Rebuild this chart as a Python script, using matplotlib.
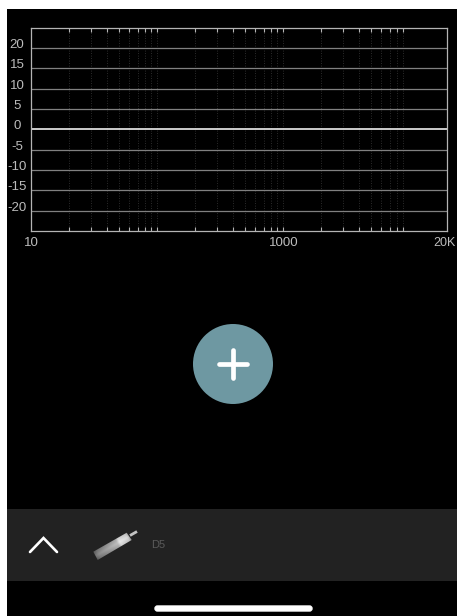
import numpy as np
import matplotlib
matplotlib.use("Agg")
import matplotlib.pyplot as plt
from matplotlib.patches import Rectangle, Circle, Polygon, FancyBboxPatch

W, H = 457, 616
db_levels = [20, 15, 10, 5, 0, -5, -10, -15, -20]
db_labels = ["20", "15", "10", "5", "0", "-5", "-10", "-15", "-20"]
freq_ticks = [20, 30, 40, 50, 60, 70, 80, 90, 100,
              200, 300, 400, 500, 600, 700, 800, 900, 1000,
              2000, 3000, 4000, 5000, 6000, 7000, 8000, 9000]
freq_labels = {10: "10", 1000: "1000", 20000: "20K"}
mic_name = "D5"

plt.rcParams["font.family"] = ["Liberation Sans", "DejaVu Sans"]
fig = plt.figure(figsize=(W / 100, H / 100), dpi=100, facecolor="white")

# Screen background and interface layer, in pixel coordinates
ui = fig.add_axes([0, 0, 1, 1], zorder=0)
ui.set_xlim(0, W)
ui.set_ylim(H, 0)
ui.axis("off")
ui.add_patch(Rectangle((7, 9), W - 7, H - 9, fc="black", ec="none"))
ui.add_patch(Rectangle((7, 509), W - 7, 72, fc="#222222", ec="none"))
ui.add_patch(Circle((233, 364), 40, fc="#6e98a2", ec="none"))
ui.plot([219, 247], [364, 364], color="white", lw=3.4, solid_capstyle="round")
ui.plot([233, 233], [350, 378], color="white", lw=3.4, solid_capstyle="round")
ui.plot([30, 43.5, 57], [552, 538, 552], color="white", lw=1.9,
        solid_capstyle="round", solid_joinstyle="miter")
ui.add_patch(FancyBboxPatch((155, 606), 157, 5, boxstyle="round,pad=0,rounding_size=2.5",
                            fc="white", ec="white", lw=1))

# Microphone icon
yy, xx = np.mgrid[525:565:160j, 90:140:200j]
ux, uy = np.array([33.5, -19.5]) / np.hypot(33.5, 19.5)
t = ((xx - 95.5) * ux + (yy - 556) * uy) / 39
s = np.abs((xx - 95.5) * -uy + (yy - 556) * ux) / 5
shade = np.interp(t, [0, 0.1, 0.65, 0.72, 0.95, 1], [0.45, 0.55, 0.75, 0.92, 0.85, 0.7]) - 0.12 * np.clip(s, 0, 1)
img = ui.imshow(shade, extent=(90, 140, 565, 525), cmap="gray", vmin=0, vmax=1,
                interpolation="bilinear", aspect="auto", zorder=2)
body = Polygon([(93.3, 551.7), (97.7, 560), (131.7, 540), (126.7, 532.7)],
               closed=True, transform=ui.transData, fc="none", ec="none")
ui.add_patch(body)
img.set_clip_path(body)
ui.set_xlim(0, W)
ui.set_ylim(H, 0)
ui.plot([130, 137], [535.5, 531.5], color="#c4c4c4", lw=2.0, solid_capstyle="butt", zorder=3)
ui.text(158, 545, mic_name, color="#5a5a5a", fontsize=8, ha="center", va="center")

# Response grid
ax = fig.add_axes([31 / W, 1 - 231 / H, 416 / W, 203.5 / H], zorder=1)
ax.patch.set_alpha(0)
ax.set_xscale("log")
ax.set_xlim(10, 20000)
ax.set_ylim(-25, 25)
for side in ax.spines.values():
    side.set_color("#b4b4b4")
    side.set_linewidth(0.9)
ax.set_xticks(freq_ticks)
ax.set_xticks([], minor=True)
ax.set_xticklabels([])
ax.set_yticks(db_levels)
ax.set_yticklabels([])
ax.tick_params(axis="x", which="major", direction="in", top=True, bottom=True,
               length=3, width=0.8, color="#b4b4b4")
ax.tick_params(axis="y", which="major", left=False, right=False)
for f in freq_ticks:
    ax.axvline(f, color="#3a3a3a", lw=0.6, ls=(0, (1, 2)), zorder=1)
for d in db_levels:
    ax.axhline(d, color="#eeeeee" if d == 0 else "#808080", lw=1.2 if d == 0 else 0.9, zorder=2)

for d, label in zip(db_levels, db_labels):
    ax.annotate(label, xy=(0, d), xycoords=("axes fraction", "data"), xytext=(-14, 3),
                textcoords="offset pixels", ha="center", va="center",
                color="#bcbcbc", fontsize=9.5, annotation_clip=False)
for f, label in freq_labels.items():
    last = f == max(freq_labels)
    ax.annotate(label, xy=(f, 0), xycoords=("data", "axes fraction"),
                xytext=(8.5 if last else 0.5, -12),
                textcoords="offset pixels", ha="right" if last else "center", va="center",
                color="#bcbcbc", fontsize=9 if last else 9.5, annotation_clip=False)

fig.savefig("out.png", dpi=100, facecolor="white")
